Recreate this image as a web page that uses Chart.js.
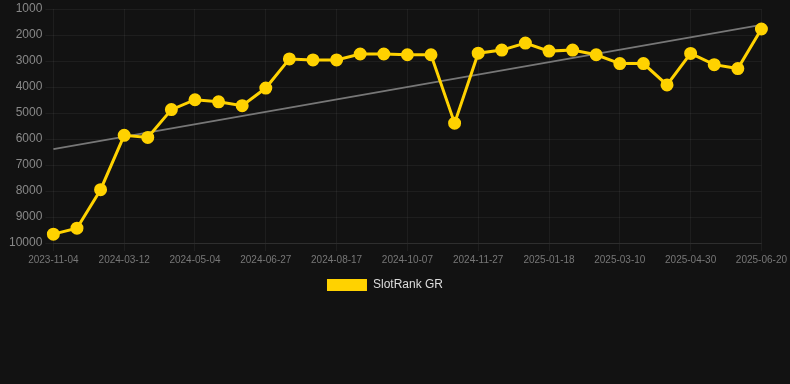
<!DOCTYPE html>
<html>
<head>
<meta charset="utf-8">
<script src="https://cdn.jsdelivr.net/npm/chart.js@4"></script>
<style>
  html, body { margin: 0; padding: 0; background: #121212; }
  #wrap { width: 790px; height: 301px; }
</style>
</head>
<body>
<div id="wrap"><canvas id="Chart"></canvas></div>
<script>
const labels = [
  "2023-11-04", "2023-12-18", "2024-01-31", "2024-03-12", "2024-03-30", "2024-04-17",
  "2024-05-04", "2024-05-22", "2024-06-09", "2024-06-27", "2024-07-14", "2024-07-31",
  "2024-08-17", "2024-09-03", "2024-09-20", "2024-10-07", "2024-10-24", "2024-11-10",
  "2024-11-27", "2024-12-14", "2025-01-01", "2025-01-18", "2025-02-04", "2025-02-21",
  "2025-03-10", "2025-03-27", "2025-04-13", "2025-04-30", "2025-05-17", "2025-06-03",
  "2025-06-20"
];
const rankGR = [
  9660, 9430, 7950, 5860, 5940, 4870, 4490, 4570, 4720, 4040, 2920,
  2960, 2960, 2730, 2730, 2760, 2760, 5390, 2700, 2580, 2310,
  2620, 2580, 2760, 3100, 3100, 3920, 2710, 3140, 3290, 1770
];
// trend line endpoints
const trend = labels.map(() => null);
trend[0] = 6390;
trend[labels.length - 1] = 1610;

const ctx = document.querySelector("#Chart").getContext("2d");
const font = "Liberation Sans, Arial, sans-serif";

const chart = new Chart(ctx, {
  type: "line",
  data: {
    labels: labels,
    datasets: [
      {
        label: "SlotRank GR",
        data: rankGR,
        borderColor: "#ffd200",
        backgroundColor: "#ffd200",
        borderWidth: 3,
        pointRadius: 5,
        pointHoverRadius: 5,
        tension: 0
      },
      {
        label: "trend",
        data: trend,
        borderColor: "#777777",
        borderWidth: 2,
        pointRadius: 0,
        spanGaps: true,
        tension: 0
      }
    ]
  },
  options: {
    responsive: true,
    maintainAspectRatio: false,
    animation: false,
    layout: { padding: { left: 6, right: 26, top: 0, bottom: 0 } },
    plugins: {
      tooltip: { enabled: false },
      legend: {
        position: "bottom",
        labels: {
          color: "#dddddd",
          boxWidth: 40,
          boxHeight: 12,
          font: { family: font, size: 12 },
          generateLabels: c => {
            const items = Chart.defaults.plugins.legend.labels.generateLabels(c);
            items.forEach(it => { it.lineWidth = 0; });
            return items;
          },
          filter: item => item.text !== "trend"
        }
      }
    },
    scales: {
      x: {
        grid: { color: "rgba(255,255,255,0.05)" },
        border: { color: "rgba(255,255,255,0.08)" },
        ticks: {
          color: "#777777",
          maxRotation: 0,
          autoSkip: true,
          callback: function (val, i) { return i % 3 === 0 ? labels[i] : null; },
          font: { family: font, size: 10 }
        }
      },
      y: {
        reverse: true,
        min: 1000,
        max: 10000,
        grid: { color: "rgba(255,255,255,0.05)" },
        border: { display: false },
        ticks: {
          stepSize: 1000,
          color: "#888888",
          callback: v => String(v),
          font: { family: font, size: 12, lineHeight: 1 }
        }
      }
    }
  }
});
</script>
</body>
</html>
